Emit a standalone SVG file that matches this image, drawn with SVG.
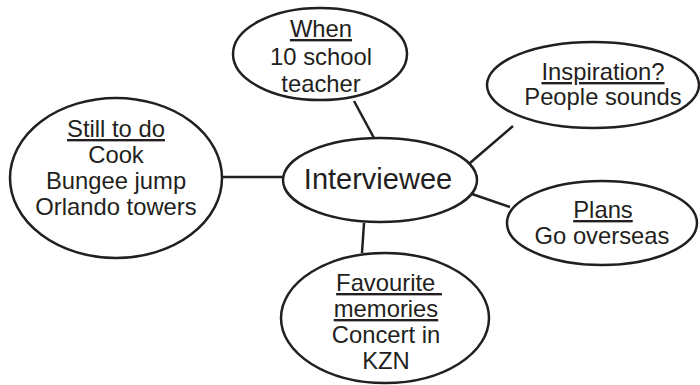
<svg xmlns="http://www.w3.org/2000/svg" width="700" height="385" viewBox="0 0 700 385">
<style>
.n{fill:#fff;stroke:#231f20;stroke-width:2.5}
.c{stroke:#231f20;stroke-width:2.5;fill:none}
text{font-family:"Liberation Sans",Arial,sans-serif;font-size:23.8px;fill:#231f20;text-anchor:middle}
.u{text-decoration:underline;white-space:pre}
.big{font-size:29px}
</style>
<rect width="700" height="385" fill="#fff"/>
<g id="connectors">
<line class="c" x1="354" y1="101" x2="374" y2="138"/>
<line class="c" x1="513" y1="126" x2="470" y2="163"/>
<line class="c" x1="222" y1="177" x2="282" y2="177"/>
<line class="c" x1="472" y1="194" x2="510" y2="207"/>
<line class="c" x1="364" y1="223" x2="362" y2="253"/>
</g>
<g id="center">
<ellipse class="n" cx="380" cy="180" rx="97" ry="42"/>
<text class="big" x="378" y="189">Interviewee</text>
</g>
<g id="when">
<ellipse class="n" cx="320" cy="54" rx="87" ry="46"/>
<text x="321" y="37" class="u">When</text>
<text x="321" y="65">10 school</text>
<text x="321" y="92">teacher</text>
</g>
<g id="inspiration">
<ellipse class="n" cx="593" cy="85" rx="106" ry="43"/>
<text x="603" y="80" class="u">Inspiration?</text>
<text x="603" y="105">People sounds</text>
</g>
<g id="still">
<ellipse class="n" cx="116" cy="178" rx="106" ry="80"/>
<text x="116" y="137" class="u">Still to do</text>
<text x="116" y="163">Cook</text>
<text x="116" y="189">Bungee jump</text>
<text x="116" y="215">Orlando towers</text>
</g>
<g id="plans">
<ellipse class="n" cx="602" cy="223" rx="95" ry="42"/>
<text x="603" y="218" class="u">Plans</text>
<text x="602" y="244">Go overseas</text>
</g>
<g id="favourite">
<ellipse class="n" cx="385" cy="318" rx="104" ry="65"/>
<text x="389" y="291" class="u">Favourite </text>
<text x="386" y="317" class="u">memories</text>
<text x="386" y="343">Concert in</text>
<text x="386" y="369">KZN</text>
</g>
</svg>
